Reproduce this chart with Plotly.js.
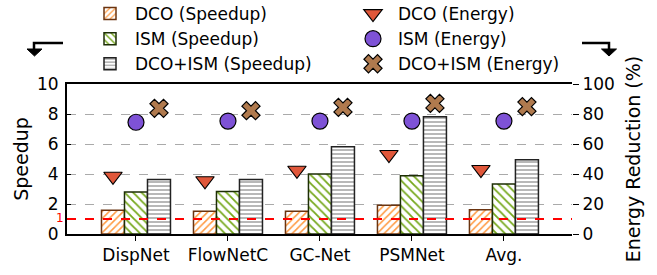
<!DOCTYPE html>
<html>
<head>
<meta charset="utf-8">
<script src="https://cdn.plot.ly/plotly-3.0.1.min.js"></script>
<style>html,body{margin:0;padding:0;background:#fff;}#chart{width:657px;height:275px;}</style>
</head>
<body>
<div id="chart"></div>
<script>
const categories = ["DispNet", "FlowNetC", "GC-Net", "PSMNet", "Avg."];
const dcoSpeedup = [1.58, 1.51, 1.51, 1.91, 1.62];
const ismSpeedup = [2.80, 2.84, 4.00, 3.89, 3.33];
const bothSpeedup = [3.64, 3.64, 5.82, 7.82, 4.95];
const dcoEnergy = [38.5, 35.5, 42.5, 53.0, 43.0];
const ismEnergy = [74.5, 75.3, 75.3, 75.3, 75.3];
const bothEnergy = [83.8, 82.2, 84.4, 87.1, 84.9];
const baseline = [1];
const leftTicks = [0, 2, 4, 6, 8, 10];

const idx = categories.map((_, i) => i);
const off = 0.25;
const font = "DejaVu Sans, sans-serif";

const traces = [
  {type: "bar", name: "DCO (Speedup)", x: idx.map(i => i - off), y: dcoSpeedup, width: off, legend: "legend",
   marker: {color: "#ffffff", line: {color: "#6b3410", width: 1.5},
            pattern: {shape: "/", fgcolor: "#ff9a40", bgcolor: "#ffffff", size: 5, solidity: 0.3}}},
  {type: "bar", name: "ISM (Speedup)", x: idx, y: ismSpeedup, width: off, legend: "legend",
   marker: {color: "#ffffff", line: {color: "#1d2e05", width: 1.5},
            pattern: {shape: "\\", fgcolor: "#76a81c", bgcolor: "#ffffff", size: 6, solidity: 0.3}}},
  {type: "bar", name: "DCO+ISM (Speedup)", x: idx.map(i => i + off), y: bothSpeedup, width: off, legend: "legend",
   marker: {color: "#ffffff", line: {color: "#222222", width: 1.5},
            pattern: {shape: "-", fgcolor: "#999999", bgcolor: "#ffffff", size: 4, solidity: 0.35}}},
  {type: "scatter", mode: "markers", name: "DCO (Energy)", x: idx.map(i => i - off), y: dcoEnergy, yaxis: "y2", legend: "legend2",
   marker: {symbol: "triangle-down", size: 16, color: "#e0573a", line: {color: "#000", width: 1.2}}},
  {type: "scatter", mode: "markers", name: "ISM (Energy)", x: idx, y: ismEnergy, yaxis: "y2", legend: "legend2",
   marker: {symbol: "circle", size: 16, color: "#7e52d6", line: {color: "#000", width: 1.2}}},
  {type: "scatter", mode: "markers", name: "DCO+ISM (Energy)", x: idx.map(i => i + off), y: bothEnergy, yaxis: "y2", legend: "legend2",
   marker: {symbol: "x", size: 16, color: "#b07a4e", line: {color: "#000", width: 1.2}}}
];

function px(v) { return (v - 67) / 505; }
function py(v) { return (234 - v) / 150; }

const legendBase = {orientation: "v", xanchor: "left", yanchor: "top", itemwidth: 40,
                    traceorder: "normal", bgcolor: "rgba(0,0,0,0)", borderwidth: 0,
                    font: {family: font, size: 17}};

const layout = {
  width: 657, height: 275,
  margin: {l: 67, r: 85, t: 84, b: 41, autoexpand: false},
  paper_bgcolor: "#fff", plot_bgcolor: "#fff",
  font: {family: font, size: 17, color: "#000"},
  barmode: "overlay",
  showlegend: true,
  legend: Object.assign({}, legendBase, {x: px(85), y: py(-4)}),
  legend2: Object.assign({}, legendBase, {x: px(348), y: py(-4)}),
  xaxis: {range: [-0.75, 4.74], tickvals: idx, ticktext: categories, ticks: "outside", ticklen: 5,
          tickcolor: "#000", showline: true, linecolor: "#000", linewidth: 2, mirror: true,
          showgrid: false, zeroline: false, tickfont: {size: 17}},
  yaxis: {range: [0, 10], tickvals: leftTicks,
          ticks: "inside", ticklen: 4, tickcolor: "#000", showline: true, linecolor: "#000", linewidth: 2,
          ticklabelstandoff: 3,
          showgrid: true, gridcolor: "#aaaaaa", griddash: "dash", gridwidth: 1, zeroline: false,
          tickfont: {size: 17}, title: {text: "Speedup", font: {size: 19}, standoff: 3}},
  yaxis2: {range: [0, 100], dtick: 20, overlaying: "y", side: "right", ticks: "outside", ticklen: 6,
           tickcolor: "#000", showgrid: false, zeroline: false, showline: false, tickfont: {size: 17},
           title: {text: "Energy Reduction (%)", font: {size: 19}, standoff: 12}},
  annotations: [
    {xref: "paper", yref: "y", x: px(65.5), y: baseline[0], xanchor: "right", yanchor: "middle", yshift: 1,
     text: String(baseline[0]), showarrow: false, font: {family: font, size: 12, color: "#ff0000"}}
  ],
  shapes: [
    {type: "line", xref: "paper", yref: "y", x0: 0, x1: 1, y0: baseline[0], y1: baseline[0],
     line: {color: "#ff0000", width: 2, dash: "dash"}, layer: "above"},
    {type: "path", xref: "paper", yref: "paper",
     path: `M ${px(63)} ${py(43)} L ${px(34)} ${py(43)} L ${px(34)} ${py(50)}`,
     line: {color: "#000", width: 2.5}},
    {type: "path", xref: "paper", yref: "paper",
     path: `M ${px(27)} ${py(49)} L ${px(42)} ${py(49)} L ${px(34.5)} ${py(56)} Z`,
     fillcolor: "#000", line: {color: "#000", width: 1}},
    {type: "path", xref: "paper", yref: "paper",
     path: `M ${px(582)} ${py(43)} L ${px(609)} ${py(43)} L ${px(609)} ${py(50)}`,
     line: {color: "#000", width: 2.5}},
    {type: "path", xref: "paper", yref: "paper",
     path: `M ${px(601.5)} ${py(49)} L ${px(616.5)} ${py(49)} L ${px(609)} ${py(56)} Z`,
     fillcolor: "#000", line: {color: "#000", width: 1}}
  ]
};

Plotly.newPlot("chart", traces, layout, {displayModeBar: false, staticPlot: true});
</script>
</body>
</html>
